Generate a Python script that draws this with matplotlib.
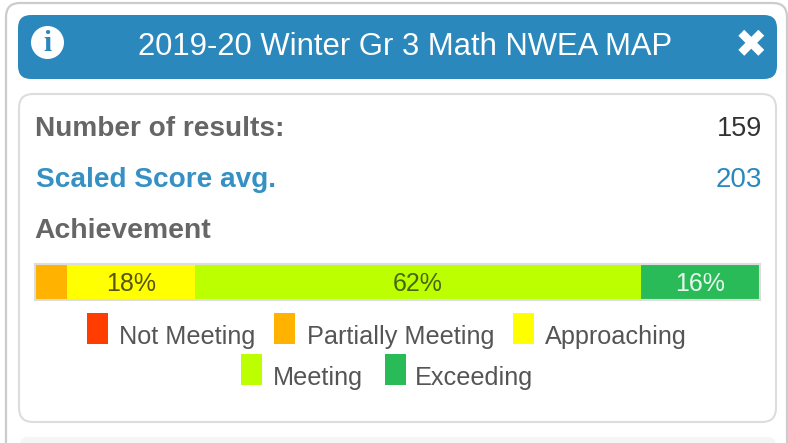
import matplotlib
matplotlib.use("Agg")
import matplotlib.pyplot as plt
from matplotlib.patches import FancyBboxPatch, Circle, Rectangle

plt.rcParams['font.family'] = ['Liberation Sans', 'DejaVu Sans']

# data
title = "2019-20 Winter Gr 3 Math NWEA MAP"
n_results = "159"
scaled_avg = "203"
levels = ["Not Meeting", "Partially Meeting", "Approaching", "Meeting", "Exceeding"]
shares = [0, 4.4, 17.7, 61.5, 16.4]
share_labels = ["", "", "18%", "62%", "16%"]
colors = ["#ff3d00", "#ffb300", "#ffff00", "#bbff00", "#2abb59"]
label_colors = ["#333333", "#333333", "#55550c", "#4a660c", "#e8f8ee"]

# layout in pixels
W, H = 788, 443
BLUE = "#2b88bd"

fig = plt.figure(figsize=(W / 100, H / 100), dpi=100, facecolor="white")
ax = fig.add_axes([0, 0, 1, 1])
ax.set_xlim(0, W)
ax.set_ylim(H, 0)
ax.axis("off")


def box(x0, y0, x1, y1, r, **kw):
    ax.add_patch(FancyBboxPatch((x0 + r, y0 + r), x1 - x0 - 2 * r, y1 - y0 - 2 * r,
                                boxstyle="round,pad=%d,rounding_size=%d" % (r, r), **kw))


box(6, 3, 787, 470, 14, fc="white", ec="#cccccc", lw=1.6)
box(18, 15, 777, 79, 13, fc=BLUE, ec="none")
box(19, 94, 776, 422, 14, fc="white", ec="#dddddd", lw=1.5)
box(20, 437, 776, 470, 8, fc="#f5f5f5", ec="none")

# header
ax.text(405, 47, title, color="white", fontsize=22.3, ha="center", va="center")
ax.add_patch(Circle((47.5, 42.5), 16.5, fc="white", ec="none"))
ax.text(47.5, 43, "i", color=BLUE, fontsize=21, fontweight="bold", family="Liberation Serif",
        ha="center", va="center")
ax.text(751, 46, "\u2716", color="white", fontsize=28, family="DejaVu Sans", ha="center", va="center")

# summary rows
ax.text(35, 129, "Number of results:", color="#666666", fontsize=20.2, fontweight="bold", va="center")
ax.text(762, 129, n_results, color="#333333", fontsize=19.5, ha="right", va="center")
ax.text(36, 180, "Scaled Score avg.", color="#3590c4", fontsize=20.2, fontweight="bold", va="center")
ax.text(762, 180, scaled_avg, color=BLUE, fontsize=20, ha="right", va="center")
ax.text(34, 231, "Achievement", color="#666666", fontsize=20.4, fontweight="bold", va="center")

# stacked bar, 35..760 px wide and 264..300 px tall
bar = fig.add_axes([35 / W, 1 - 300 / H, 725 / W, 36 / H])
left = 0
for share, lab, c, lc in zip(shares, share_labels, colors, label_colors):
    bar.barh(0, share, left=left, height=1, color=c, linewidth=0)
    if lab:
        bar.text(left + share / 2, -0.05, lab, color=lc, fontsize=18, ha="center", va="center")
    left += share
bar.set_xlim(0, 100)
bar.set_ylim(-0.5, 0.5)
bar.set_xticks([])
bar.set_yticks([])
for s in bar.spines.values():
    s.set_color("#dddddd")
    s.set_linewidth(1.5)

# legend
swatch_x = [87, 274, 513, 241, 385]
swatch_y = [313, 313, 313, 354, 354]
text_x = [119, 307, 545, 273, 415]
for i, name in enumerate(levels):
    ax.add_patch(Rectangle((swatch_x[i], swatch_y[i]), 21, 31, fc=colors[i], ec="none"))
    ax.text(text_x[i], swatch_y[i] + 24, name, color="#555555", fontsize=18.2, va="center")

fig.savefig("out.png", dpi=100)
